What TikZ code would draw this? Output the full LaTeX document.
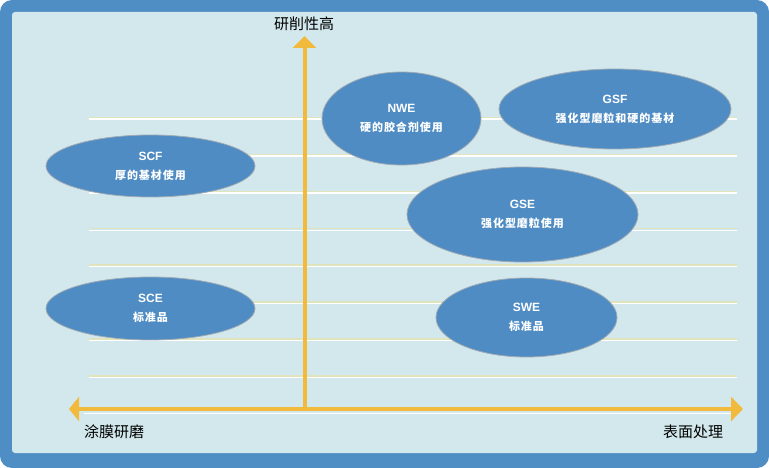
\documentclass[tikz,border=0pt]{standalone}
\usepackage{fontspec}
\usetikzlibrary{shapes.geometric,arrows.meta}
\newfontfamily\cjk{Noto Sans CJK SC}
\newfontfamily\latin{Liberation Sans}
\definecolor{frameblue}{RGB}{79,141,197}
\definecolor{panelbg}{RGB}{210,232,236}
\definecolor{blobblue}{RGB}{78,140,195}
\definecolor{rimgray}{RGB}{160,170,180}
\definecolor{gridyellow}{RGB}{224,228,188}
\definecolor{axisorange}{RGB}{241,186,60}
\newcommand{\lat}[1]{{\latin\bfseries\fontsize{12}{19}\selectfont #1}}
\newcommand{\cjb}[1]{{\cjk\bfseries\fontsize{11}{19}\selectfont\addfontfeature{LetterSpace=9}#1}}
\tikzset{
  blob/.style={ellipse, draw=rimgray, line width=0.8pt, fill=blobblue, inner sep=0pt,
    text=white, align=center, font=\fontsize{11}{19}\selectfont},
  axisline/.style={draw=axisorange, line width=4pt},
  axislabel/.style={inner sep=0pt, text=black, font=\cjk\fontsize{15}{18}\selectfont},
  gridy/.style={draw=gridyellow, line width=1.6pt},
  gridw/.style={draw=white, line width=1.4pt}
}
\begin{document}
\begin{tikzpicture}[x=1pt,y=-1pt]
\useasboundingbox (0,0) rectangle (769,468);
\fill[white] (0,0) rectangle (769,468);
\fill[frameblue, rounded corners=12pt] (0,0) rectangle (769,468);
\fill[panelbg, rounded corners=3pt] (12,12) rectangle (757,453);
% grid lines
\foreach \y in {118,155,192,229,265.5,302.5,339.5,376.5}{
  \draw[gridy] (89,\y-0.6) -- (737,\y-0.6);
  \draw[gridw] (89,\y+1.2) -- (737,\y+1.2);
}
% axes
\coordinate (vbot) at (304.5,409);
\coordinate (vtop) at (304.5,36);
\coordinate (hl) at (69,409);
\coordinate (hr) at (743,409);
\coordinate (wl) at (84,413.5);
\coordinate (wr) at (731,413.5);
\draw[gridw] (wl) -- (wr);
\draw[axisline, -{Triangle[length=12pt,width=23pt]}] (vbot) -- (vtop);
\draw[axisline, {Triangle[length=10pt,width=24pt]}-{Triangle[length=12pt,width=24pt]}] (hl) -- (hr);
% axis labels
\node[axislabel] (ylab) at (304,24) {研削性高};
\node[axislabel, anchor=west] (xlabl) at (84,432) {涂膜研磨};
\node[axislabel] (xlabr) at (693,432) {表面处理};
% ellipses
\node[blob, minimum width=209pt, minimum height=62pt] (scf) at (150.5,166) {\lat{SCF}\\\cjb{厚的基材使用}};
\node[blob, minimum width=209pt, minimum height=63pt] (sce) at (150.5,308.5) {\lat{SCE}\\\cjb{标准品}};
\node[blob, minimum width=159pt, minimum height=93pt] (nwe) at (401.5,118.5) {\lat{NWE}\\\cjb{硬的胶合剂使用}};
\node[blob, minimum width=232pt, minimum height=80pt] (gsf) at (615,109) {\lat{GSF}\\\cjb{强化型磨粒和硬的基材}};
\node[blob, minimum width=231pt, minimum height=95pt] (gse) at (522.5,214.5) {\lat{GSE}\\\cjb{强化型磨粒使用}};
\node[blob, minimum width=181pt, minimum height=79pt] (swe) at (526.5,317.5) {\lat{SWE}\\\cjb{标准品}};
\end{tikzpicture}
\end{document}
